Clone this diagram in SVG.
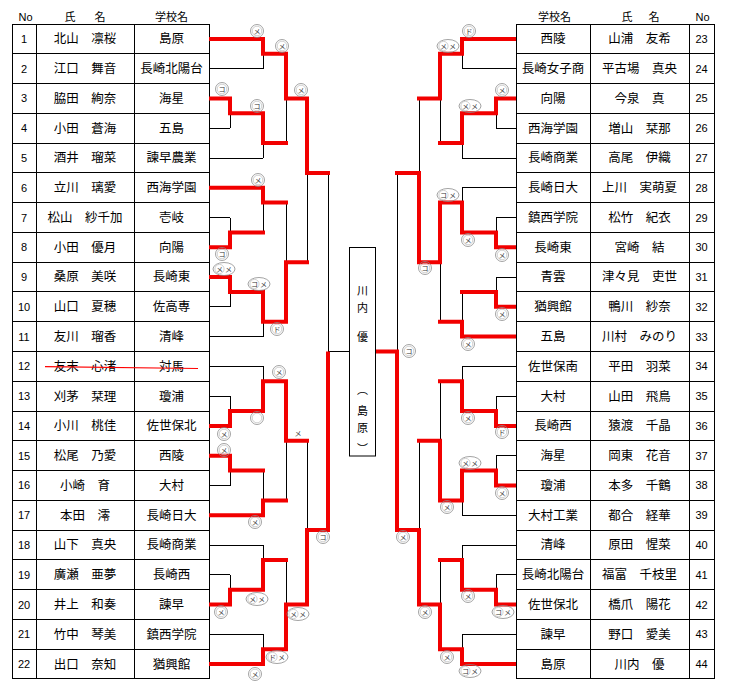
<svg xmlns="http://www.w3.org/2000/svg" xmlns:xlink="http://www.w3.org/1999/xlink" width="733" height="688" viewBox="0 0 733 688">
<style>
.c{fill:none;stroke:#000;stroke-width:1;shape-rendering:crispEdges}
.t{font-family:"Noto Sans CJK JP","Liberation Sans",sans-serif;font-size:12.5px;text-anchor:middle;fill:#000}
.n{font-family:"Liberation Sans",Arial,sans-serif;font-size:11px;text-anchor:middle;fill:#000}
.h{font-family:"Noto Sans CJK JP","Liberation Sans",sans-serif;font-size:11px;text-anchor:middle;fill:#000}
.bk{fill:none;stroke:#000;stroke-width:1;shape-rendering:crispEdges}
.rd{fill:none;stroke:#f20000;stroke-width:4;stroke-linecap:square;stroke-linejoin:miter}
.o1{fill:none;stroke:#8c8c8c;stroke-width:0.8}
.o2{fill:none;stroke:#c4c4c4;stroke-width:0.8}
.mk{font-family:"Noto Sans CJK JP",sans-serif;font-size:7px;text-anchor:middle;fill:#333}
.ch{font-family:"Noto Sans CJK JP","Liberation Sans",sans-serif;font-size:11px;text-anchor:middle;fill:#000}
</style>
<defs>
<g id="m1"><circle r="6.5" class="o1"/><circle r="4.8" class="o2"/></g>
<g id="m2"><ellipse rx="11" ry="6.5" class="o1"/><circle cx="-4.5" r="4.6" class="o2"/></g>
</defs>
<rect width="733" height="688" fill="#fff"/>

<g id="header">
<text class="n" x="25.5" y="21">No</text>
<text class="h" x="70" y="21">氏</text><text class="h" x="100" y="21">名</text>
<text class="h" x="171.5" y="21">学校名</text>
<text class="h" x="554.5" y="21">学校名</text>
<text class="h" x="627" y="21">氏</text><text class="h" x="654" y="21">名</text>
<text class="n" x="702.5" y="21">No</text>
</g>

<g id="left-table">
<g id="p1" transform="translate(0,24)"><rect class="c" x="12" width="24" height="29.77"/><rect class="c" x="36" width="98" height="29.77"/><rect class="c" x="134" width="75" height="29.77"/><text class="n" x="24" y="18.9">1</text><text class="t" x="85" y="19.3">北山　凛桜</text><text class="t" x="171.5" y="19.3">島原</text></g>
<g id="p2" transform="translate(0,53.77)"><rect class="c" x="12" width="24" height="29.77"/><rect class="c" x="36" width="98" height="29.77"/><rect class="c" x="134" width="75" height="29.77"/><text class="n" x="24" y="18.9">2</text><text class="t" x="85" y="19.3">江口　舞音</text><text class="t" x="171.5" y="19.3">長崎北陽台</text></g>
<g id="p3" transform="translate(0,83.55)"><rect class="c" x="12" width="24" height="29.77"/><rect class="c" x="36" width="98" height="29.77"/><rect class="c" x="134" width="75" height="29.77"/><text class="n" x="24" y="18.9">3</text><text class="t" x="85" y="19.3">脇田　絢奈</text><text class="t" x="171.5" y="19.3">海星</text></g>
<g id="p4" transform="translate(0,113.32)"><rect class="c" x="12" width="24" height="29.77"/><rect class="c" x="36" width="98" height="29.77"/><rect class="c" x="134" width="75" height="29.77"/><text class="n" x="24" y="18.9">4</text><text class="t" x="85" y="19.3">小田　蒼海</text><text class="t" x="171.5" y="19.3">五島</text></g>
<g id="p5" transform="translate(0,143.09)"><rect class="c" x="12" width="24" height="29.77"/><rect class="c" x="36" width="98" height="29.77"/><rect class="c" x="134" width="75" height="29.77"/><text class="n" x="24" y="18.9">5</text><text class="t" x="85" y="19.3">酒井　瑠菜</text><text class="t" x="171.5" y="19.3">諫早農業</text></g>
<g id="p6" transform="translate(0,172.86)"><rect class="c" x="12" width="24" height="29.77"/><rect class="c" x="36" width="98" height="29.77"/><rect class="c" x="134" width="75" height="29.77"/><text class="n" x="24" y="18.9">6</text><text class="t" x="85" y="19.3">立川　璃愛</text><text class="t" x="171.5" y="19.3">西海学園</text></g>
<g id="p7" transform="translate(0,202.64)"><rect class="c" x="12" width="24" height="29.77"/><rect class="c" x="36" width="98" height="29.77"/><rect class="c" x="134" width="75" height="29.77"/><text class="n" x="24" y="18.9">7</text><text class="t" x="85" y="19.3">松山　紗千加</text><text class="t" x="171.5" y="19.3">壱岐</text></g>
<g id="p8" transform="translate(0,232.41)"><rect class="c" x="12" width="24" height="29.77"/><rect class="c" x="36" width="98" height="29.77"/><rect class="c" x="134" width="75" height="29.77"/><text class="n" x="24" y="18.9">8</text><text class="t" x="85" y="19.3">小田　優月</text><text class="t" x="171.5" y="19.3">向陽</text></g>
<g id="p9" transform="translate(0,262.18)"><rect class="c" x="12" width="24" height="29.77"/><rect class="c" x="36" width="98" height="29.77"/><rect class="c" x="134" width="75" height="29.77"/><text class="n" x="24" y="18.9">9</text><text class="t" x="85" y="19.3">桑原　美咲</text><text class="t" x="171.5" y="19.3">長崎東</text></g>
<g id="p10" transform="translate(0,291.95)"><rect class="c" x="12" width="24" height="29.77"/><rect class="c" x="36" width="98" height="29.77"/><rect class="c" x="134" width="75" height="29.77"/><text class="n" x="24" y="18.9">10</text><text class="t" x="85" y="19.3">山口　夏穂</text><text class="t" x="171.5" y="19.3">佐高専</text></g>
<g id="p11" transform="translate(0,321.73)"><rect class="c" x="12" width="24" height="29.77"/><rect class="c" x="36" width="98" height="29.77"/><rect class="c" x="134" width="75" height="29.77"/><text class="n" x="24" y="18.9">11</text><text class="t" x="85" y="19.3">友川　瑠香</text><text class="t" x="171.5" y="19.3">清峰</text></g>
<g id="p12" transform="translate(0,351.5)"><rect class="c" x="12" width="24" height="29.77"/><rect class="c" x="36" width="98" height="29.77"/><rect class="c" x="134" width="75" height="29.77"/><text class="n" x="24" y="18.9">12</text><text class="t" x="85" y="19.3">友末　心渚</text><text class="t" x="171.5" y="19.3">対馬</text><line x1="45" y1="15.2" x2="198" y2="17" stroke="#f00" stroke-width="1.2"/></g>
<g id="p13" transform="translate(0,381.27)"><rect class="c" x="12" width="24" height="29.77"/><rect class="c" x="36" width="98" height="29.77"/><rect class="c" x="134" width="75" height="29.77"/><text class="n" x="24" y="18.9">13</text><text class="t" x="85" y="19.3">刈茅　栞理</text><text class="t" x="171.5" y="19.3">瓊浦</text></g>
<g id="p14" transform="translate(0,411.05)"><rect class="c" x="12" width="24" height="29.77"/><rect class="c" x="36" width="98" height="29.77"/><rect class="c" x="134" width="75" height="29.77"/><text class="n" x="24" y="18.9">14</text><text class="t" x="85" y="19.3">小川　桃佳</text><text class="t" x="171.5" y="19.3">佐世保北</text></g>
<g id="p15" transform="translate(0,440.82)"><rect class="c" x="12" width="24" height="29.77"/><rect class="c" x="36" width="98" height="29.77"/><rect class="c" x="134" width="75" height="29.77"/><text class="n" x="24" y="18.9">15</text><text class="t" x="85" y="19.3">松尾　乃愛</text><text class="t" x="171.5" y="19.3">西陵</text></g>
<g id="p16" transform="translate(0,470.59)"><rect class="c" x="12" width="24" height="29.77"/><rect class="c" x="36" width="98" height="29.77"/><rect class="c" x="134" width="75" height="29.77"/><text class="n" x="24" y="18.9">16</text><text class="t" x="85" y="19.3">小崎　育</text><text class="t" x="171.5" y="19.3">大村</text></g>
<g id="p17" transform="translate(0,500.36)"><rect class="c" x="12" width="24" height="29.77"/><rect class="c" x="36" width="98" height="29.77"/><rect class="c" x="134" width="75" height="29.77"/><text class="n" x="24" y="18.9">17</text><text class="t" x="85" y="19.3">本田　澪</text><text class="t" x="171.5" y="19.3">長崎日大</text></g>
<g id="p18" transform="translate(0,530.14)"><rect class="c" x="12" width="24" height="29.77"/><rect class="c" x="36" width="98" height="29.77"/><rect class="c" x="134" width="75" height="29.77"/><text class="n" x="24" y="18.9">18</text><text class="t" x="85" y="19.3">山下　真央</text><text class="t" x="171.5" y="19.3">長崎商業</text></g>
<g id="p19" transform="translate(0,559.91)"><rect class="c" x="12" width="24" height="29.77"/><rect class="c" x="36" width="98" height="29.77"/><rect class="c" x="134" width="75" height="29.77"/><text class="n" x="24" y="18.9">19</text><text class="t" x="85" y="19.3">廣瀬　亜夢</text><text class="t" x="171.5" y="19.3">長崎西</text></g>
<g id="p20" transform="translate(0,589.68)"><rect class="c" x="12" width="24" height="29.77"/><rect class="c" x="36" width="98" height="29.77"/><rect class="c" x="134" width="75" height="29.77"/><text class="n" x="24" y="18.9">20</text><text class="t" x="85" y="19.3">井上　和奏</text><text class="t" x="171.5" y="19.3">諫早</text></g>
<g id="p21" transform="translate(0,619.45)"><rect class="c" x="12" width="24" height="29.77"/><rect class="c" x="36" width="98" height="29.77"/><rect class="c" x="134" width="75" height="29.77"/><text class="n" x="24" y="18.9">21</text><text class="t" x="85" y="19.3">竹中　琴美</text><text class="t" x="171.5" y="19.3">鎮西学院</text></g>
<g id="p22" transform="translate(0,649.23)"><rect class="c" x="12" width="24" height="29.77"/><rect class="c" x="36" width="98" height="29.77"/><rect class="c" x="134" width="75" height="29.77"/><text class="n" x="24" y="18.9">22</text><text class="t" x="85" y="19.3">出口　奈知</text><text class="t" x="171.5" y="19.3">猶興館</text></g>
</g>

<g id="right-table">
<g id="p23" transform="translate(0,24)"><rect class="c" x="516" width="74" height="29.77"/><rect class="c" x="590" width="99" height="29.77"/><rect class="c" x="689" width="25" height="29.77"/><text class="t" x="553" y="19.3">西陵</text><text class="t" x="639.5" y="19.3">山浦　友希</text><text class="n" x="701.5" y="18.9">23</text></g>
<g id="p24" transform="translate(0,53.77)"><rect class="c" x="516" width="74" height="29.77"/><rect class="c" x="590" width="99" height="29.77"/><rect class="c" x="689" width="25" height="29.77"/><text class="t" x="553" y="19.3">長崎女子商</text><text class="t" x="639.5" y="19.3">平古場　真央</text><text class="n" x="701.5" y="18.9">24</text></g>
<g id="p25" transform="translate(0,83.55)"><rect class="c" x="516" width="74" height="29.77"/><rect class="c" x="590" width="99" height="29.77"/><rect class="c" x="689" width="25" height="29.77"/><text class="t" x="553" y="19.3">向陽</text><text class="t" x="639.5" y="19.3">今泉　真</text><text class="n" x="701.5" y="18.9">25</text></g>
<g id="p26" transform="translate(0,113.32)"><rect class="c" x="516" width="74" height="29.77"/><rect class="c" x="590" width="99" height="29.77"/><rect class="c" x="689" width="25" height="29.77"/><text class="t" x="553" y="19.3">西海学園</text><text class="t" x="639.5" y="19.3">増山　栞那</text><text class="n" x="701.5" y="18.9">26</text></g>
<g id="p27" transform="translate(0,143.09)"><rect class="c" x="516" width="74" height="29.77"/><rect class="c" x="590" width="99" height="29.77"/><rect class="c" x="689" width="25" height="29.77"/><text class="t" x="553" y="19.3">長崎商業</text><text class="t" x="639.5" y="19.3">高尾　伊織</text><text class="n" x="701.5" y="18.9">27</text></g>
<g id="p28" transform="translate(0,172.86)"><rect class="c" x="516" width="74" height="29.77"/><rect class="c" x="590" width="99" height="29.77"/><rect class="c" x="689" width="25" height="29.77"/><text class="t" x="553" y="19.3">長崎日大</text><text class="t" x="639.5" y="19.3">上川　実萌夏</text><text class="n" x="701.5" y="18.9">28</text></g>
<g id="p29" transform="translate(0,202.64)"><rect class="c" x="516" width="74" height="29.77"/><rect class="c" x="590" width="99" height="29.77"/><rect class="c" x="689" width="25" height="29.77"/><text class="t" x="553" y="19.3">鎮西学院</text><text class="t" x="639.5" y="19.3">松竹　紀衣</text><text class="n" x="701.5" y="18.9">29</text></g>
<g id="p30" transform="translate(0,232.41)"><rect class="c" x="516" width="74" height="29.77"/><rect class="c" x="590" width="99" height="29.77"/><rect class="c" x="689" width="25" height="29.77"/><text class="t" x="553" y="19.3">長崎東</text><text class="t" x="639.5" y="19.3">宮崎　結</text><text class="n" x="701.5" y="18.9">30</text></g>
<g id="p31" transform="translate(0,262.18)"><rect class="c" x="516" width="74" height="29.77"/><rect class="c" x="590" width="99" height="29.77"/><rect class="c" x="689" width="25" height="29.77"/><text class="t" x="553" y="19.3">青雲</text><text class="t" x="639.5" y="19.3">津々見　吏世</text><text class="n" x="701.5" y="18.9">31</text></g>
<g id="p32" transform="translate(0,291.95)"><rect class="c" x="516" width="74" height="29.77"/><rect class="c" x="590" width="99" height="29.77"/><rect class="c" x="689" width="25" height="29.77"/><text class="t" x="553" y="19.3">猶興館</text><text class="t" x="639.5" y="19.3">鴨川　紗奈</text><text class="n" x="701.5" y="18.9">32</text></g>
<g id="p33" transform="translate(0,321.73)"><rect class="c" x="516" width="74" height="29.77"/><rect class="c" x="590" width="99" height="29.77"/><rect class="c" x="689" width="25" height="29.77"/><text class="t" x="553" y="19.3">五島</text><text class="t" x="639.5" y="19.3">川村　みのり</text><text class="n" x="701.5" y="18.9">33</text></g>
<g id="p34" transform="translate(0,351.5)"><rect class="c" x="516" width="74" height="29.77"/><rect class="c" x="590" width="99" height="29.77"/><rect class="c" x="689" width="25" height="29.77"/><text class="t" x="553" y="19.3">佐世保南</text><text class="t" x="639.5" y="19.3">平田　羽菜</text><text class="n" x="701.5" y="18.9">34</text></g>
<g id="p35" transform="translate(0,381.27)"><rect class="c" x="516" width="74" height="29.77"/><rect class="c" x="590" width="99" height="29.77"/><rect class="c" x="689" width="25" height="29.77"/><text class="t" x="553" y="19.3">大村</text><text class="t" x="639.5" y="19.3">山田　飛鳥</text><text class="n" x="701.5" y="18.9">35</text></g>
<g id="p36" transform="translate(0,411.05)"><rect class="c" x="516" width="74" height="29.77"/><rect class="c" x="590" width="99" height="29.77"/><rect class="c" x="689" width="25" height="29.77"/><text class="t" x="553" y="19.3">長崎西</text><text class="t" x="639.5" y="19.3">猿渡　千晶</text><text class="n" x="701.5" y="18.9">36</text></g>
<g id="p37" transform="translate(0,440.82)"><rect class="c" x="516" width="74" height="29.77"/><rect class="c" x="590" width="99" height="29.77"/><rect class="c" x="689" width="25" height="29.77"/><text class="t" x="553" y="19.3">海星</text><text class="t" x="639.5" y="19.3">岡東　花音</text><text class="n" x="701.5" y="18.9">37</text></g>
<g id="p38" transform="translate(0,470.59)"><rect class="c" x="516" width="74" height="29.77"/><rect class="c" x="590" width="99" height="29.77"/><rect class="c" x="689" width="25" height="29.77"/><text class="t" x="553" y="19.3">瓊浦</text><text class="t" x="639.5" y="19.3">本多　千鶴</text><text class="n" x="701.5" y="18.9">38</text></g>
<g id="p39" transform="translate(0,500.36)"><rect class="c" x="516" width="74" height="29.77"/><rect class="c" x="590" width="99" height="29.77"/><rect class="c" x="689" width="25" height="29.77"/><text class="t" x="553" y="19.3">大村工業</text><text class="t" x="639.5" y="19.3">都合　経華</text><text class="n" x="701.5" y="18.9">39</text></g>
<g id="p40" transform="translate(0,530.14)"><rect class="c" x="516" width="74" height="29.77"/><rect class="c" x="590" width="99" height="29.77"/><rect class="c" x="689" width="25" height="29.77"/><text class="t" x="553" y="19.3">清峰</text><text class="t" x="639.5" y="19.3">原田　惺菜</text><text class="n" x="701.5" y="18.9">40</text></g>
<g id="p41" transform="translate(0,559.91)"><rect class="c" x="516" width="74" height="29.77"/><rect class="c" x="590" width="99" height="29.77"/><rect class="c" x="689" width="25" height="29.77"/><text class="t" x="553" y="19.3">長崎北陽台</text><text class="t" x="639.5" y="19.3">福富　千枝里</text><text class="n" x="701.5" y="18.9">41</text></g>
<g id="p42" transform="translate(0,589.68)"><rect class="c" x="516" width="74" height="29.77"/><rect class="c" x="590" width="99" height="29.77"/><rect class="c" x="689" width="25" height="29.77"/><text class="t" x="553" y="19.3">佐世保北</text><text class="t" x="639.5" y="19.3">橋爪　陽花</text><text class="n" x="701.5" y="18.9">42</text></g>
<g id="p43" transform="translate(0,619.45)"><rect class="c" x="516" width="74" height="29.77"/><rect class="c" x="590" width="99" height="29.77"/><rect class="c" x="689" width="25" height="29.77"/><text class="t" x="553" y="19.3">諫早</text><text class="t" x="639.5" y="19.3">野口　愛美</text><text class="n" x="701.5" y="18.9">43</text></g>
<g id="p44" transform="translate(0,649.23)"><rect class="c" x="516" width="74" height="29.77"/><rect class="c" x="590" width="99" height="29.77"/><rect class="c" x="689" width="25" height="29.77"/><text class="t" x="553" y="19.3">島原</text><text class="t" x="639.5" y="19.3">川内　優</text><text class="n" x="701.5" y="18.9">44</text></g>
</g>

<g id="connectors">
<path class="bk" d="M209 38.9H263M209 68.7H263M263 38.9V68.7M263 53.8H286M209 98.4H230M209 128.2H230M230 98.4V128.2M230 113.3H263M209 158H263M263 113.3V158M263 143.1H286M286 53.8V143.1M286 98.4H307M209 187.8H263M209 217.5H230M209 247.3H230M230 217.5V247.3M230 232.4H263M263 187.8V232.4M263 202.6H286M209 277.1H230M209 306.8H230M230 277.1V306.8M230 292H263M209 336.6H263M263 292V336.6M263 321.7H286M286 202.6V321.7M286 262.2H307M307 98.4V262.2M307 172.9H328M209 366.4H263M209 396.2H230M209 425.9H230M230 396.2V425.9M230 411H263M263 366.4V411M263 381.3H286M209 455.7H230M209 485.5H230M230 455.7V485.5M230 470.6H263M209 515.2H263M263 470.6V515.2M263 500.4H286M286 381.3V500.4M286 440.8H307M209 545H263M209 574.8H230M209 604.6H230M230 574.8V604.6M230 589.7H263M263 545V589.7M263 559.9H286M209 634.3H263M209 664.1H263M263 634.3V664.1M263 649.2H286M286 559.9V649.2M286 604.6H307M307 440.8V604.6M307 530.1H328M328 172.9V530.1M328 351.5H349"/>
<path class="bk" d="M516 38.9H462M516 68.7H462M462 38.9V68.7M462 53.8H440M516 98.4H496M516 128.2H496M496 98.4V128.2M496 113.3H462M516 158H462M462 113.3V158M462 143.1H440M440 53.8V143.1M440 98.4H419M516 187.8H462M516 217.5H496M516 247.3H496M496 217.5V247.3M496 232.4H462M462 187.8V232.4M462 202.6H440M516 277.1H496M516 306.8H496M496 277.1V306.8M496 292H462M516 336.6H462M462 292V336.6M462 321.7H440M440 202.6V321.7M440 262.2H419M419 98.4V262.2M419 172.9H397M516 366.4H462M516 396.2H496M516 425.9H496M496 396.2V425.9M496 411H462M462 366.4V411M462 381.3H440M516 455.7H496M516 485.5H496M496 455.7V485.5M496 470.6H462M516 515.2H462M462 470.6V515.2M462 500.4H440M440 381.3V500.4M440 440.8H419M516 545H462M516 574.8H496M516 604.6H496M496 574.8V604.6M496 589.7H462M462 545V589.7M462 559.9H440M516 634.3H462M516 664.1H462M462 634.3V664.1M462 649.2H440M440 559.9V649.2M440 604.6H419M419 440.8V604.6M419 530.1H397M397 172.9V530.1M397 351.5H375"/>
<path class="rd" d="M211 38.9H263V53.8H286V98.4H307V172.9H328"/>
<path class="rd" d="M211 98.4H230V113.3H263V143.1H286"/>
<path class="rd" d="M211 187.8H263V202.6H286"/>
<path class="rd" d="M211 247.3H230V232.4H263"/>
<path class="rd" d="M211 277.1H230V292H263V321.7H286V262.2H307"/>
<path class="rd" d="M211 425.9H230V411H263V381.3H286V440.8H307"/>
<path class="rd" d="M211 455.7H230V470.6H263"/>
<path class="rd" d="M211 515.2H263V500.4H286"/>
<path class="rd" d="M211 604.6H230V589.7H263V559.9H286"/>
<path class="rd" d="M211 664.1H263V649.2H286V604.6H307V530.1H328V353.5"/>
<path class="rd" d="M514 38.9H462V53.8H440V98.4H419"/>
<path class="rd" d="M514 98.4H496V113.3H462V143.1H440"/>
<path class="rd" d="M514 247.3H496V232.4H462V202.6H440V262.2H419V172.9H397"/>
<path class="rd" d="M514 306.8H496V292H462"/>
<path class="rd" d="M514 336.6H462V321.7H440"/>
<path class="rd" d="M514 425.9H496V411H462V381.3H440"/>
<path class="rd" d="M514 485.5H496V470.6H462V500.4H440V440.8H419"/>
<path class="rd" d="M514 604.6H496V589.7H462V559.9H440"/>
<path class="rd" d="M514 664.1H462V649.2H440V604.6H419V530.1H397V351.5H377"/>
</g>

<g id="marks">
<use xlink:href="#m1" x="257" y="31"/><text class="mk" x="257" y="33.5">メ</text>
<use xlink:href="#m1" x="282" y="46"/><text class="mk" x="282" y="48.5">メ</text>
<use xlink:href="#m1" x="301" y="90"/><text class="mk" x="301" y="92.5">メ</text>
<use xlink:href="#m1" x="222" y="89"/><text class="mk" x="222" y="91.5">コ</text>
<use xlink:href="#m1" x="257" y="106"/><text class="mk" x="257" y="108.5">コ</text>
<use xlink:href="#m1" x="258" y="180"/><text class="mk" x="258" y="182.5">メ</text>
<use xlink:href="#m1" x="222" y="254"/><text class="mk" x="222" y="256.5">コ</text>
<use xlink:href="#m2" x="224" y="269"/><text class="mk" x="219.5" y="271.5">メ</text><text class="mk" x="228.5" y="271.5">メ</text>
<use xlink:href="#m2" x="259" y="284"/><text class="mk" x="254.5" y="286.5">コ</text><text class="mk" x="263.5" y="286.5">メ</text>
<use xlink:href="#m1" x="277" y="329"/><text class="mk" x="277" y="331.5">ド</text>
<use xlink:href="#m1" x="279" y="372"/><text class="mk" x="279" y="374.5">メ</text>
<use xlink:href="#m1" x="257" y="418"/>
<use xlink:href="#m1" x="224" y="434"/><text class="mk" x="224" y="436.5">メ</text>
<use xlink:href="#m1" x="224" y="450"/><text class="mk" x="224" y="452.5">メ</text>
<text class="mk" x="298" y="436">メ</text>
<use xlink:href="#m1" x="255" y="522"/><text class="mk" x="255" y="524.5">メ</text>
<use xlink:href="#m1" x="323" y="537"/><text class="mk" x="323" y="539.5">コ</text>
<use xlink:href="#m2" x="257" y="599"/><text class="mk" x="252.5" y="601.5">メ</text><text class="mk" x="261.5" y="601.5">メ</text>
<use xlink:href="#m1" x="221" y="612"/><text class="mk" x="221" y="614.5">メ</text>
<use xlink:href="#m2" x="298" y="614"/><text class="mk" x="293.5" y="616.5">メ</text><text class="mk" x="302.5" y="616.5">メ</text>
<use xlink:href="#m2" x="277" y="657"/><text class="mk" x="272.5" y="659.5">ド</text><text class="mk" x="281.5" y="659.5">メ</text>
<use xlink:href="#m1" x="255" y="674"/><text class="mk" x="255" y="676.5">メ</text>

<use xlink:href="#m1" x="469" y="31"/><text class="mk" x="469" y="33.5">ド</text>
<use xlink:href="#m2" x="448" y="46"/><text class="mk" x="443.5" y="48.5">メ</text><text class="mk" x="452.5" y="48.5">メ</text>
<use xlink:href="#m1" x="502" y="90"/><text class="mk" x="502" y="92.5">メ</text>
<use xlink:href="#m2" x="470" y="106"/><text class="mk" x="465.5" y="108.5">メ</text><text class="mk" x="474.5" y="108.5">メ</text>
<use xlink:href="#m2" x="448" y="195"/><text class="mk" x="443.5" y="197.5">コ</text><text class="mk" x="452.5" y="197.5">メ</text>
<use xlink:href="#m1" x="468" y="240"/><text class="mk" x="468" y="242.5">メ</text>
<use xlink:href="#m1" x="502" y="255"/><text class="mk" x="502" y="257.5">メ</text>
<use xlink:href="#m1" x="425" y="268"/><text class="mk" x="425" y="270.5">コ</text>
<use xlink:href="#m1" x="502" y="314"/><text class="mk" x="502" y="316.5">メ</text>
<use xlink:href="#m1" x="468" y="344"/><text class="mk" x="468" y="346.5">メ</text>
<use xlink:href="#m1" x="409" y="351"/><text class="mk" x="409" y="353.5">コ</text>
<use xlink:href="#m1" x="468" y="418"/><text class="mk" x="468" y="420.5">メ</text>
<use xlink:href="#m1" x="502" y="432"/><text class="mk" x="502" y="434.5">ド</text>
<use xlink:href="#m2" x="470" y="463"/><text class="mk" x="465.5" y="465.5">メ</text><text class="mk" x="474.5" y="465.5">メ</text>
<use xlink:href="#m1" x="502" y="493"/><text class="mk" x="502" y="495.5">メ</text>
<use xlink:href="#m1" x="447" y="507"/><text class="mk" x="447" y="509.5">メ</text>
<use xlink:href="#m1" x="403" y="537"/><text class="mk" x="403" y="539.5">メ</text>
<use xlink:href="#m1" x="468" y="596"/><text class="mk" x="468" y="598.5">メ</text>
<use xlink:href="#m2" x="503" y="612"/><text class="mk" x="498.5" y="614.5">コ</text><text class="mk" x="507.5" y="614.5">メ</text>
<use xlink:href="#m1" x="425" y="612"/><text class="mk" x="425" y="614.5">メ</text>
<use xlink:href="#m1" x="447" y="657"/><text class="mk" x="447" y="659.5">メ</text>
<use xlink:href="#m2" x="470" y="671"/><text class="mk" x="465.5" y="673.5">コ</text><text class="mk" x="474.5" y="673.5">メ</text>
</g>

<g id="champion">
<rect x="349.5" y="247.5" width="26" height="208.5" fill="#fff" stroke="#000" stroke-width="1"/>
<text class="ch" x="362.5" y="295">川</text>
<text class="ch" x="362.5" y="312">内</text>
<text class="ch" x="362.5" y="341">優</text>
<text class="ch" x="362.5" y="394">︵</text>
<text class="ch" x="362.5" y="415">島</text>
<text class="ch" x="362.5" y="432">原</text>
<text class="ch" x="362.5" y="453">︶</text>
</g>
</svg>
